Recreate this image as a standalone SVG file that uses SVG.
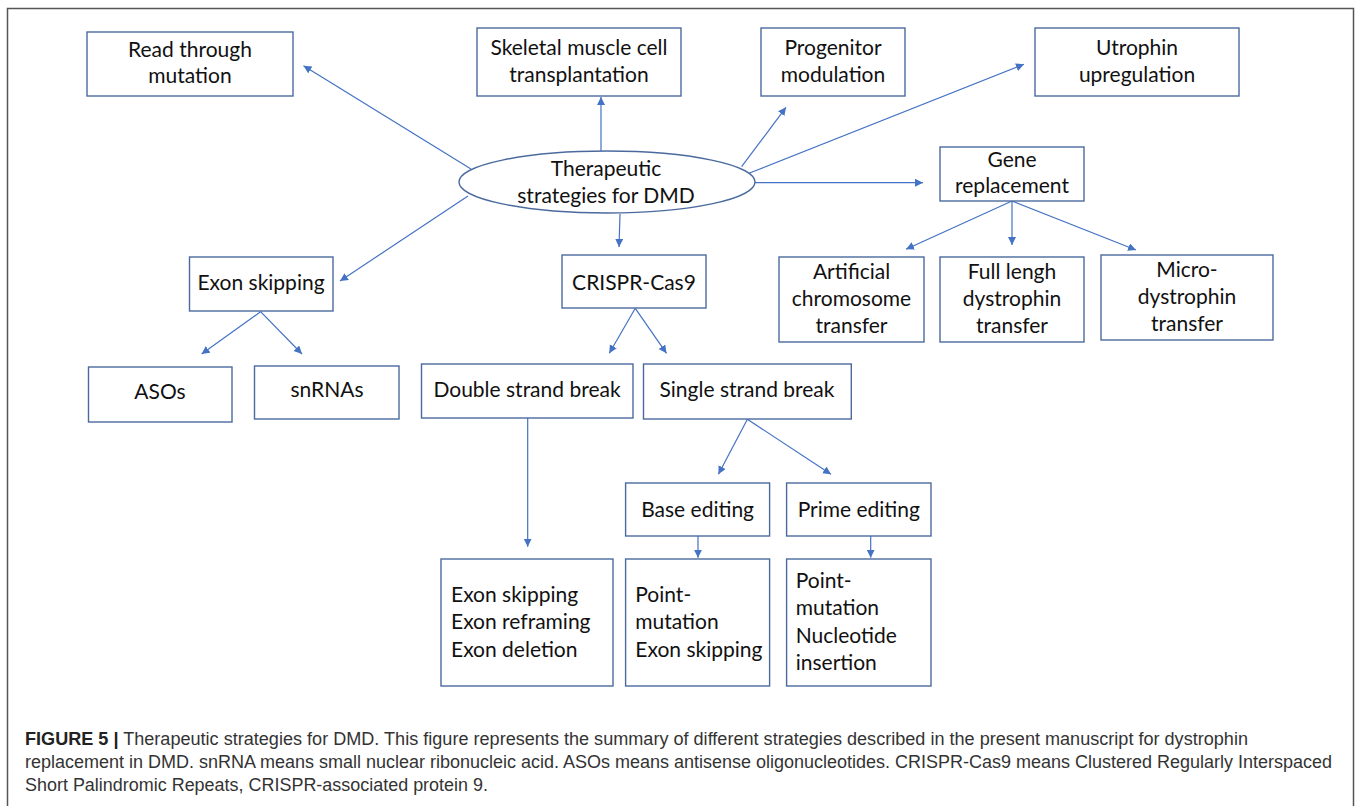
<svg xmlns="http://www.w3.org/2000/svg" width="1358" height="806" viewBox="0 0 1358 806">
<defs>
<marker id="ah" markerUnits="userSpaceOnUse" markerWidth="10" markerHeight="10" refX="8" refY="4" orient="auto">
<path d="M0,0 L8,4 L0,8 z" fill="#4472C4"/>
</marker>
<style>
.bx{fill:#fff;stroke:#4a6a9e;stroke-width:1.4}
.t{font-family:Lato,"Open Sans","Liberation Sans",sans-serif;font-size:21px;fill:#111}
.c{text-anchor:middle}
.cn line{stroke:#4472C4;stroke-width:1.2;marker-end:url(#ah)}
.cap{font-family:"Liberation Sans",Arial,sans-serif;font-size:17.5px;fill:#333}
</style>
</defs>
<rect x="0" y="0" width="1358" height="806" fill="#fff"/>
<rect x="7.5" y="8.5" width="1346" height="800" fill="none" stroke="#555" stroke-width="1.5"/>

<g id="connectors" class="cn">
<line x1="471" y1="169" x2="303.5" y2="65.7"/>
<line x1="601" y1="151" x2="601" y2="97"/>
<line x1="741.6" y1="166.7" x2="786" y2="107.3"/>
<line x1="749" y1="173.3" x2="1024" y2="64.3"/>
<line x1="755" y1="182.7" x2="923" y2="182.7"/>
<line x1="468" y1="196" x2="340" y2="281"/>
<line x1="620" y1="214" x2="619" y2="247"/>
<line x1="1012" y1="201" x2="906" y2="249.3"/>
<line x1="1012" y1="201" x2="1012" y2="245"/>
<line x1="1012" y1="201" x2="1136" y2="250"/>
<line x1="260.6" y1="311.7" x2="201.6" y2="354"/>
<line x1="260.6" y1="311.7" x2="302" y2="354"/>
<line x1="635.3" y1="308.3" x2="609.3" y2="353.3"/>
<line x1="635.3" y1="308.3" x2="666.5" y2="353.3"/>
<line x1="527.7" y1="418" x2="527.7" y2="546.7"/>
<line x1="747.4" y1="419.3" x2="718.4" y2="474.3"/>
<line x1="747.4" y1="419.3" x2="831" y2="474.3"/>
<line x1="698" y1="536" x2="698" y2="557.7"/>
<line x1="870.7" y1="536" x2="870.7" y2="557.7"/>
</g>

<g id="read"><rect class="bx" x="87" y="32" width="206" height="64"/>
<text class="t c" x="190" y="56.5">Read through</text><text class="t c" x="190" y="83">mutation</text></g>
<g id="skeletal"><rect class="bx" x="477" y="28" width="204" height="68"/>
<text class="t c" x="579" y="55">Skeletal muscle cell</text><text class="t c" x="579" y="81.7">transplantation</text></g>
<g id="progenitor"><rect class="bx" x="761" y="28" width="144" height="68"/>
<text class="t c" x="833" y="55">Progenitor</text><text class="t c" x="833" y="81.7">modulation</text></g>
<g id="utrophin"><rect class="bx" x="1035" y="28" width="204" height="68"/>
<text class="t c" x="1137" y="55">Utrophin</text><text class="t c" x="1137" y="81.7">upregulation</text></g>
<g id="center"><ellipse cx="607" cy="182" rx="148" ry="31" fill="#fff" stroke="#4a6a9e" stroke-width="1.4"/>
<text class="t c" x="606" y="175.7">Therapeutic</text><text class="t c" x="606" y="202.7">strategies for DMD</text></g>
<g id="gene"><rect class="bx" x="940" y="147" width="144" height="54"/>
<text class="t c" x="1012" y="166.7">Gene</text><text class="t c" x="1012" y="193">replacement</text></g>
<g id="exonskip"><rect class="bx" x="189.5" y="257" width="143.5" height="54"/>
<text class="t c" x="261" y="290">Exon skipping</text></g>
<g id="crispr"><rect class="bx" x="562" y="255" width="144" height="53"/>
<text class="t c" x="634" y="290">CRISPR-Cas9</text></g>
<g id="artificial"><rect class="bx" x="779" y="257" width="145" height="85"/>
<text class="t c" x="851.5" y="279">Artificial</text><text class="t c" x="851.5" y="306">chromosome</text><text class="t c" x="851.5" y="333">transfer</text></g>
<g id="full"><rect class="bx" x="940" y="257" width="144" height="85"/>
<text class="t c" x="1012" y="279">Full lengh</text><text class="t c" x="1012" y="306">dystrophin</text><text class="t c" x="1012" y="333">transfer</text></g>
<g id="micro"><rect class="bx" x="1101" y="255" width="172" height="85"/>
<text class="t c" x="1187" y="276.7">Micro-</text><text class="t c" x="1187" y="304">dystrophin</text><text class="t c" x="1187" y="331">transfer</text></g>
<g id="asos"><rect class="bx" x="88.5" y="367" width="143.5" height="55"/>
<text class="t c" x="160" y="399">ASOs</text></g>
<g id="snrnas"><rect class="bx" x="254.5" y="366" width="144.5" height="53"/>
<text class="t c" x="327" y="397">snRNAs</text></g>
<g id="double"><rect class="bx" x="421.5" y="364" width="211.5" height="54"/>
<text class="t c" x="527" y="397">Double strand break</text></g>
<g id="single"><rect class="bx" x="643.5" y="364" width="207.8" height="55"/>
<text class="t c" x="747" y="397">Single strand break</text></g>
<g id="base"><rect class="bx" x="625.6" y="483" width="144" height="53"/>
<text class="t c" x="697.6" y="516.7">Base editing</text></g>
<g id="prime"><rect class="bx" x="786.6" y="483" width="144.4" height="53"/>
<text class="t c" x="858.8" y="516.7">Prime editing</text></g>
<g id="exonres"><rect class="bx" x="441" y="559" width="172" height="127"/>
<text class="t" x="451" y="601.7">Exon skipping</text><text class="t" x="451" y="629.3">Exon reframing</text><text class="t" x="451" y="656.7">Exon deletion</text></g>
<g id="pointex"><rect class="bx" x="625.6" y="559" width="144" height="127"/>
<text class="t" x="635.3" y="601.7">Point-</text><text class="t" x="635.3" y="629.3">mutation</text><text class="t" x="635.3" y="656.7">Exon skipping</text></g>
<g id="pointnuc"><rect class="bx" x="786.6" y="559" width="144.4" height="127"/>
<text class="t" x="795.7" y="587.7">Point-</text><text class="t" x="795.7" y="615">mutation</text><text class="t" x="795.7" y="642.7">Nucleotide</text><text class="t" x="795.7" y="670">insertion</text></g>

<g id="caption">
<text class="cap" x="25" y="745" textLength="1223" lengthAdjust="spacingAndGlyphs"><tspan font-weight="bold" fill="#222">FIGURE 5 |</tspan> Therapeutic strategies for DMD. This figure represents the summary of different strategies described in the present manuscript for dystrophin</text>
<text class="cap" x="25" y="768" textLength="1307" lengthAdjust="spacingAndGlyphs">replacement in DMD. snRNA means small nuclear ribonucleic acid. ASOs means antisense oligonucleotides. CRISPR-Cas9 means Clustered Regularly Interspaced</text>
<text class="cap" x="25" y="791" textLength="463" lengthAdjust="spacingAndGlyphs">Short Palindromic Repeats, CRISPR-associated protein 9.</text>
</g>
</svg>
